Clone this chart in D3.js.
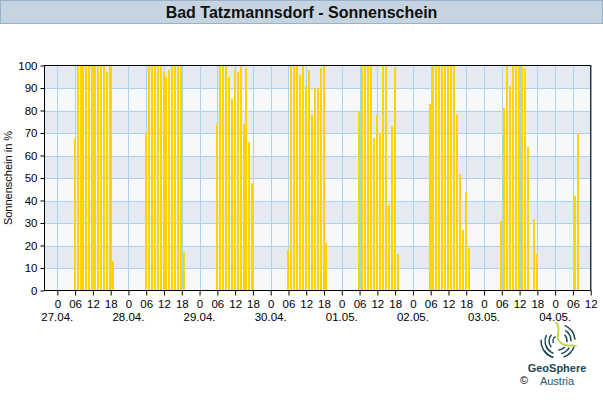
<!DOCTYPE html>
<html>
<head>
<meta charset="utf-8">
<script src="https://cdn.jsdelivr.net/npm/d3@7"></script>
<style>
  html, body { margin: 0; padding: 0; background: #fff; }
  svg { display: block; font-family: "Liberation Sans", Arial, sans-serif; }
</style>
</head>
<body>
<svg id="chart" width="603" height="400"></svg>
<script>
// ---- data ----
const title = "Bad Tatzmannsdorf - Sonnenschein";
const yTitle = "Sonnenschein in %";
const dayLabels = ["27.04.", "28.04.", "29.04.", "30.04.", "01.05.", "02.05.", "03.05.", "04.05."];
const firstHour = 6; // first hour of each day's series
const sun27 = [68, 100, 100, 100, 100, 100, 100, 100, 100, 100, 100, 97, 100, 13];
const sun28 = [70, 100, 100, 100, 100, 100, 97, 95, 98, 100, 100, 100, 100, 17];
const sun29 = [74, 100, 100, 100, 95, 85, 98, 97, 100, 74, 99, 66, 48, 0];
const sun30 = [18, 100, 100, 100, 96, 100, 91, 98, 78, 90, 90, 99, 100, 21];
const sun01 = [80, 100, 100, 100, 100, 68, 78, 70, 100, 100, 38, 73, 99, 16];
const sun02 = [83, 100, 100, 100, 100, 100, 100, 100, 100, 78, 52, 27, 44, 19];
const sun03 = [31, 81, 100, 91, 100, 100, 100, 100, 99, 64, 0, 32, 16, 0];
const sun04 = [0, 42, 70];
const dailySeries = [sun27, sun28, sun29, sun30, sun01, sun02, sun03, sun04];
const yTicks = [0, 10, 20, 30, 40, 50, 60, 70, 80, 90, 100];
const hourTickStep = 6;

// flatten to (hours since 27.04. 00:00, value)
const points = [];
dailySeries.forEach((arr, d) => arr.forEach((v, i) => points.push({ h: d * 24 + firstHour + i, v })));

const svg = d3.select("#chart");
const W = 603, H = 400;
const pL = 44.5, pR = 590.7, pT = 65.5, pB = 290.5;

const x = d3.scaleLinear().domain([-4.33, 180]).range([pL, pR]);
const y = d3.scaleLinear().domain([0, 100]).range([pB, pT]);

// title bar
svg.append("rect").attr("x", 0.5).attr("y", 0.5).attr("width", W - 1).attr("height", 23)
  .attr("fill", "#c6d4e1").attr("stroke", "#98b2ca");
svg.append("text").attr("x", W / 2).attr("y", 18).attr("text-anchor", "middle")
  .attr("font-size", 16).attr("font-weight", "bold").attr("fill", "#111").text(title);

// background bands
const bands = d3.range(0, 100, 10);
svg.append("g").selectAll("rect").data(bands).join("rect")
  .attr("x", pL).attr("width", pR - pL)
  .attr("y", d => y(d + 10)).attr("height", d => y(d) - y(d + 10))
  .attr("fill", d => ((d / 10) % 2 === 1) ? "#e5e9f2" : "#f6f8fa");

// grid
const hourTicks = d3.range(0, 181, hourTickStep);
const grid = svg.append("g").attr("stroke", "#a9d3f0").attr("stroke-width", 1);
grid.selectAll("line.v").data(hourTicks).join("line").attr("class", "v")
  .attr("x1", d => Math.round(x(d)) + 0.5).attr("x2", d => Math.round(x(d)) + 0.5)
  .attr("y1", pT).attr("y2", pB);
grid.selectAll("line.h").data(yTicks.slice(1, -1)).join("line").attr("class", "h")
  .attr("x1", pL).attr("x2", pR)
  .attr("y1", d => Math.round(y(d)) + 0.5).attr("y2", d => Math.round(y(d)) + 0.5);

// bars
svg.append("g").attr("shape-rendering", "crispEdges").selectAll("rect").data(points.filter(p => p.v > 0)).join("rect")
  .attr("x", d => Math.round(x(d.h) - 1.5)).attr("width", 2)
  .attr("y", d => Math.round(y(d.v))).attr("height", d => Math.round(pB - 0.5) - Math.round(y(d.v)))
  .attr("fill", "#ffd400");

// frame
svg.append("rect").attr("x", pL).attr("y", pT).attr("width", pR - pL).attr("height", pB - pT)
  .attr("fill", "none").attr("stroke", "#000").attr("stroke-width", 1);

// y axis
const yAxis = svg.append("g").attr("transform", `translate(${pL},0)`)
  .call(d3.axisLeft(y).tickValues(yTicks).tickSize(4).tickPadding(3));
yAxis.select(".domain").remove();
yAxis.selectAll("text").attr("font-size", 11.5).attr("fill", "#000").attr("font-family", "Liberation Sans, Arial, sans-serif");
yAxis.selectAll("line").attr("stroke", "#000");

// x axis
const xAxis = svg.append("g").attr("transform", `translate(0,${pB})`)
  .call(d3.axisBottom(x).tickValues(hourTicks).tickSize(5).tickPadding(4)
    .tickFormat(d => { const hh = d % 24; return hh === 0 ? "0" : d3.format("02d")(hh); }));
xAxis.select(".domain").remove();
xAxis.selectAll("text").attr("font-size", 11.5).attr("fill", "#000").attr("font-family", "Liberation Sans, Arial, sans-serif");
xAxis.selectAll("line").attr("stroke", "#000");

// date labels
svg.append("g").selectAll("text").data(dayLabels).join("text")
  .attr("x", (d, i) => x(i * 24)).attr("y", 321).attr("text-anchor", "middle")
  .attr("font-size", 11.5).attr("fill", "#000").text(d => d);

// y title
svg.append("text").attr("transform", `translate(12,${(pT + pB) / 2}) rotate(-90)`)
  .attr("text-anchor", "middle").attr("font-size", 11).attr("fill", "#000").text(yTitle);

// logo
const logo = svg.append("g").attr("transform", "translate(558,341)").attr("fill", "none").attr("stroke-linecap", "round");
const arcGen = d3.arc();
[[17, -2.7, -1.5], [13, -2.5, -1.1], [9, -2.3, -0.8], [5, -2.0, -0.5],
 [17, 0.4, 1.5], [13, 0.6, 1.6], [9, 0.8, 1.7],
 [17, 1.9, 2.8], [13, 2.1, 2.9], [9, 2.3, 3.1],
 [17, 3.4, 4.1], [13, 3.5, 4.3]].forEach(a => {
  logo.append("path").attr("d", arcGen({ innerRadius: a[0], outerRadius: a[0], startAngle: a[1], endAngle: a[2] }))
    .attr("stroke", "#1e4656").attr("stroke-width", 1.5);
});
logo.append("path").attr("d", "M-2,-18 C5,-12 -5,-4 3,2 C9,7 14,3 18,5").attr("stroke", "#bcd63a").attr("stroke-width", 1.8);
svg.append("text").attr("x", 557).attr("y", 372).attr("text-anchor", "middle").attr("font-size", 11)
  .attr("font-weight", "bold").attr("fill", "#1d4656").text("GeoSphere");
svg.append("text").attr("x", 557).attr("y", 385).attr("text-anchor", "middle").attr("font-size", 11)
  .attr("fill", "#2a5868").text("Austria");
svg.append("text").attr("x", 524).attr("y", 384).attr("text-anchor", "middle").attr("font-size", 11)
  .attr("fill", "#000").text("©");
</script>
</body>
</html>
